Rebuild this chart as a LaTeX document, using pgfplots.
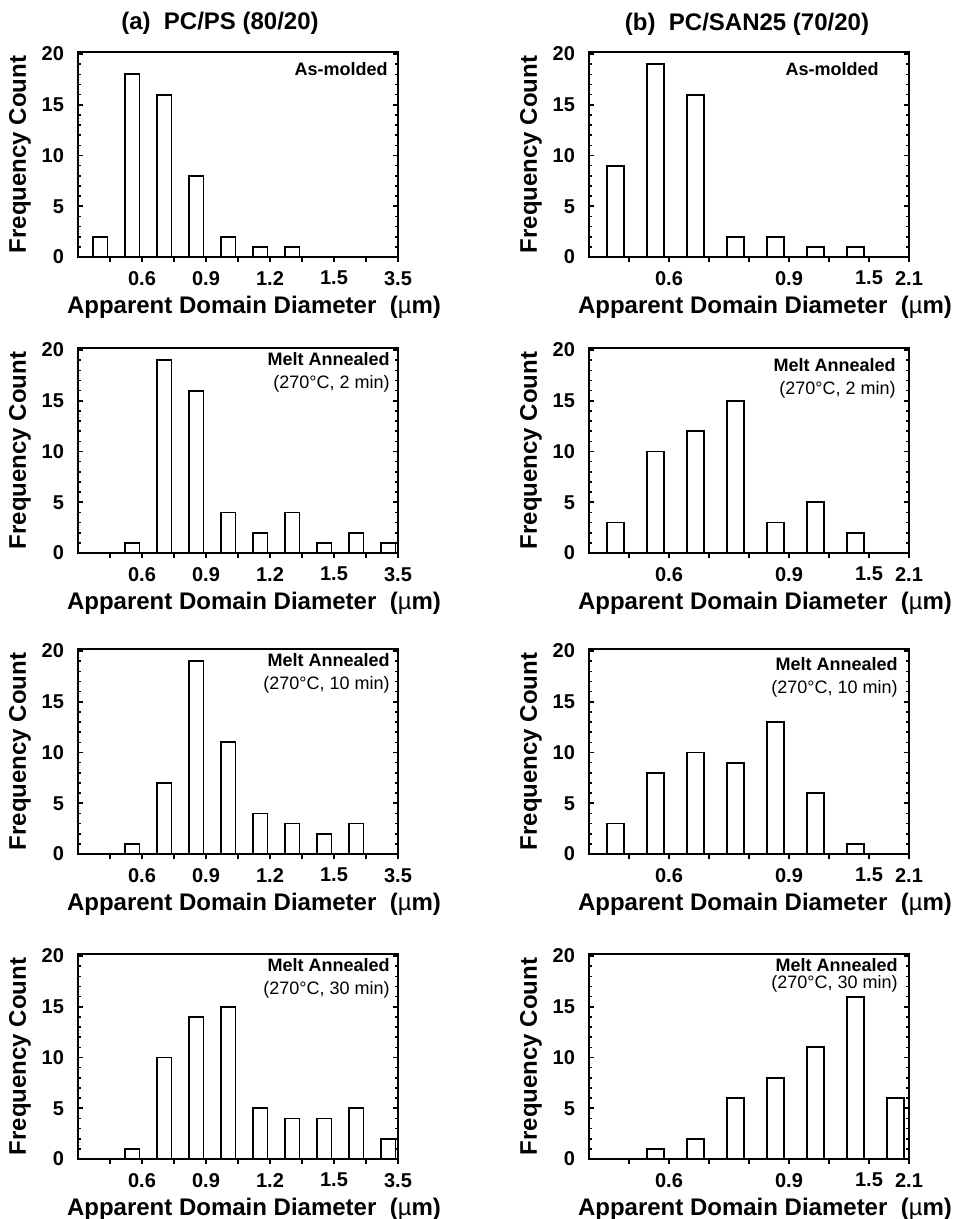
\documentclass[border=0pt]{standalone}
\usepackage{fontspec}
\setmainfont{Liberation Sans}
\usepackage{pgfplots}
\pgfplotsset{compat=1.18}
\tikzset{
  hbar/.style={draw=black, fill=white, line width=0.9pt},
  ann/.style={anchor=north east, align=right, inner sep=0pt, font=\fontsize{9}{11.5}\selectfont},
}
\pgfplotsset{
  hist/.style={
    scale only axis, width=160pt, height=102.5pt, anchor=south west,
    ymin=0, ymax=20.2, ytick={0,5,10,15,20}, minor y tick num=4,
    ytick align=inside, xtick align=outside, xtick pos=left, ytick pos=both,
    major tick length=2.5pt, minor tick length=1.3pt,
    axis line style={line width=1pt}, every tick/.style={black, line width=0.8pt},
    /pgf/number format/assume math mode=true,
    tick label style={font=\fontsize{10}{12}\selectfont\bfseries},
    yticklabel style={xshift=-3.5pt},
    xticklabel style={yshift=-1pt},
    label style={font=\fontsize{12}{14}\selectfont\bfseries},
    xlabel={Apparent Domain Diameter\ \ ({\mdseries µ}m)},
    xlabel style={xshift=8pt, yshift=1.5pt},
    ylabel={Frequency Count},
    ylabel style={yshift=-1.5pt},
    ybar, bar shift=0pt,
  },
  leftp/.style={hist, xmin=0, xmax=10, xtick={1,...,10},
    xticklabels={,0.6,,0.9,,1.2,,1.5,,3.5}, bar width=0.44},
  rightp/.style={hist, xmin=0, xmax=8, xtick={1,...,8},
    xticklabels={,0.6,,,0.9,,1.5,2.1}, bar width=0.435},
}
\begin{document}
\begin{tikzpicture}
\useasboundingbox (0,0) rectangle (478.5pt,-609.5pt);
\node[font=\fontsize{12}{14}\selectfont\bfseries] at (110pt,-11.5pt) {(a)\ \ PC/PS (80/20)};
\node[font=\fontsize{12}{14}\selectfont\bfseries] at (373.5pt,-12pt) {(b)\ \ PC/SAN25 (70/20)};

% ---- left column ----
\begin{axis}[leftp, at={(39pt,-128.5pt)}]
\addplot[hbar] coordinates {(0.7,2) (1.7,18) (2.7,16) (3.7,8) (4.7,2) (5.7,1) (6.7,1)};
\node[ann, xshift=-5pt, yshift=-5pt] at (rel axis cs:1,1) {\textbf{As-molded}};
\end{axis}

\begin{axis}[leftp, at={(39pt,-276.5pt)}]
\addplot[hbar] coordinates {(1.7,1) (2.7,19) (3.7,16) (4.7,4) (5.7,2) (6.7,4) (7.7,1) (8.7,2) (9.7,1)};
\node[ann, xshift=-4pt, yshift=-2pt] at (rel axis cs:1,1) {\textbf{Melt Annealed}\\(270°C, 2 min)};
\end{axis}

\begin{axis}[leftp, at={(39pt,-427pt)}]
\addplot[hbar] coordinates {(1.7,1) (2.7,7) (3.7,19) (4.7,11) (5.7,4) (6.7,3) (7.7,2) (8.7,3)};
\node[ann, xshift=-4pt, yshift=-2pt] at (rel axis cs:1,1) {\textbf{Melt Annealed}\\(270°C, 10 min)};
\end{axis}

\begin{axis}[leftp, at={(39pt,-579.5pt)}]
\addplot[hbar] coordinates {(1.7,1) (2.7,10) (3.7,14) (4.7,15) (5.7,5) (6.7,4) (7.7,4) (8.7,5) (9.7,2)};
\node[ann, xshift=-4pt, yshift=-2pt] at (rel axis cs:1,1) {\textbf{Melt Annealed}\\(270°C, 30 min)};
\end{axis}

% ---- right column ----
\begin{axis}[rightp, at={(294.5pt,-128.5pt)}]
\addplot[hbar] coordinates {(0.665,9) (1.665,19) (2.665,16) (3.665,2) (4.665,2) (5.665,1) (6.665,1)};
\node[ann, xshift=-15pt, yshift=-5pt] at (rel axis cs:1,1) {\textbf{As-molded}};
\end{axis}

\begin{axis}[rightp, at={(294.5pt,-276.5pt)}]
\addplot[hbar] coordinates {(0.665,3) (1.665,10) (2.665,12) (3.665,15) (4.665,3) (5.665,5) (6.665,2)};
\node[ann, xshift=-6.5pt, yshift=-5pt] at (rel axis cs:1,1) {\textbf{Melt Annealed}\\(270°C, 2 min)};
\end{axis}

\begin{axis}[rightp, at={(294.5pt,-427pt)}]
\addplot[hbar] coordinates {(0.665,3) (1.665,8) (2.665,10) (3.665,9) (4.665,13) (5.665,6) (6.665,1)};
\node[ann, xshift=-5.5pt, yshift=-4pt] at (rel axis cs:1,1) {\textbf{Melt Annealed}\\(270°C, 10 min)};
\end{axis}

\begin{axis}[rightp, at={(294.5pt,-579.5pt)}]
\addplot[hbar] coordinates {(1.665,1) (2.665,2) (3.665,6) (4.665,8) (5.665,11) (6.665,16) (7.665,6)};
\node[ann, font=\fontsize{9}{8.5}\selectfont, xshift=-5.5pt, yshift=-2pt] at (rel axis cs:1,1) {\textbf{Melt Annealed}\\(270°C, 30 min)};
\end{axis}
\end{tikzpicture}
\end{document}
